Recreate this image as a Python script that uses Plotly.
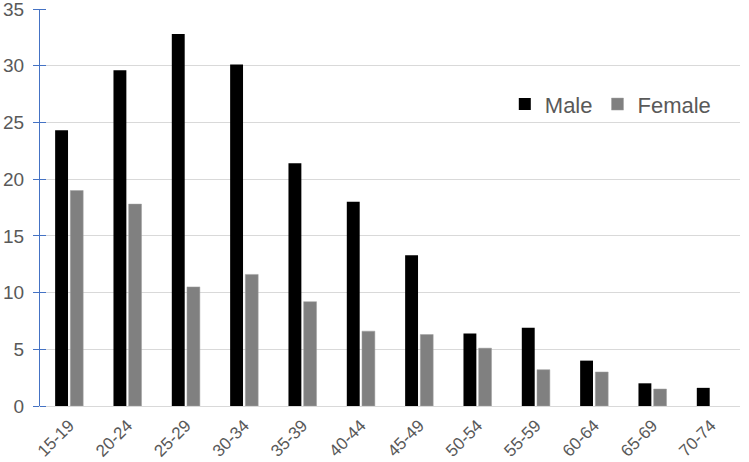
import plotly.graph_objects as go

categories = ["15-19", "20-24", "25-29", "30-34", "35-39", "40-44", "45-49",
              "50-54", "55-59", "60-64", "65-69", "70-74"]
male = [24.3, 29.6, 32.8, 30.1, 21.4, 18.0, 13.3, 6.4, 6.9, 4.0, 2.0, 1.6]
female = [19.0, 17.8, 10.5, 11.6, 9.2, 6.6, 6.3, 5.1, 3.2, 3.0, 1.5, None]
y_ticks = [0, 5, 10, 15, 20, 25, 30, 35]

fig = go.Figure()
fig.add_trace(go.Bar(x=categories, y=male, name="Male",
                     marker=dict(color="#000000", line=dict(width=0))))
fig.add_trace(go.Bar(x=categories, y=female, name="Female",
                     marker=dict(color="#808080", line=dict(color="#a0a0a0", width=0.5))))

fig.update_layout(
    width=749, height=462,
    margin=dict(l=40, r=9, t=9, b=56, autoexpand=False),
    paper_bgcolor="white", plot_bgcolor="white",
    barmode="group", bargap=0.48, bargroupgap=0.15,
    font=dict(family="Liberation Sans, Arial, sans-serif", color="#595959"),
    showlegend=True,
    legend=dict(orientation="h", x=0.664, y=0.76, xanchor="left", yanchor="middle",
                font=dict(size=22, color="#595959"), bgcolor="rgba(0,0,0,0)",
                itemwidth=30, traceorder="normal"),
    xaxis=dict(tickangle=-45, tickfont=dict(size=17, color="#595959"),
               showline=True, linecolor="#d9d9d9", linewidth=1, ticks="",
               showgrid=False, automargin=False, ticklabelstandoff=2),
    yaxis=dict(range=[0, 35], tickvals=y_ticks, ticktext=[str(v) for v in y_ticks],
               tickfont=dict(size=19, color="#595959"),
               ticklabeloverflow="allow", automargin=False,
               showgrid=True, gridcolor="#d9d9d9", gridwidth=1,
               showline=True, linecolor="#4472C4", linewidth=1,
               ticks="outside", ticklen=6, tickcolor="#4472C4", tickwidth=1,
               minor=dict(ticks="inside", tickvals=y_ticks, ticklen=6,
                          tickcolor="#4472C4", tickwidth=1, showgrid=False),
               zeroline=False, ticklabelstandoff=5),
)

fig.write_html("out.html")
